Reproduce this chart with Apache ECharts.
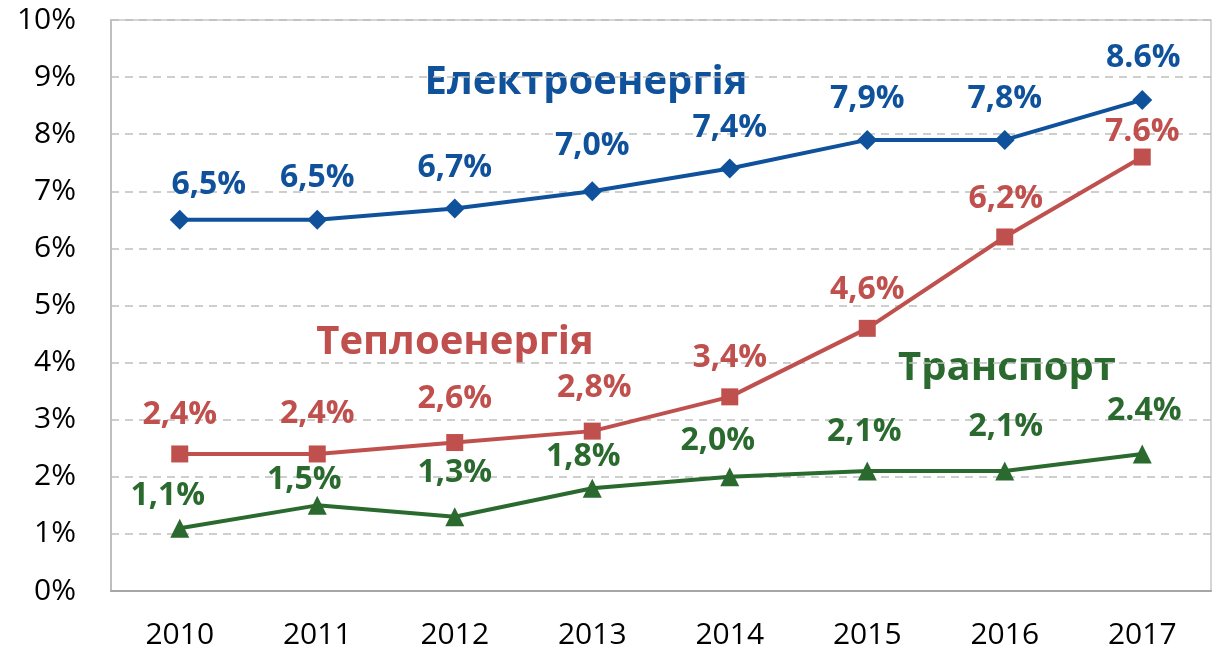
<!DOCTYPE html>
<html><head><meta charset="utf-8">
<script src="https://cdn.jsdelivr.net/npm/echarts@6/dist/echarts.min.js"></script>
<style>html,body{margin:0;padding:0;background:#fff}#c{width:1213px;height:656px}</style>
</head><body><div id="c"></div>
<script>
const years = ['2010','2011','2012','2013','2014','2015','2016','2017'];
const electricity = [6.5, 6.5, 6.7, 7.0, 7.4, 7.9, 7.9, 8.6];
const electricityLabels = ['6,5%','6,5%','6,7%','7,0%','7,4%','7,9%','7,8%','8.6%'];
const heat = [2.4, 2.4, 2.6, 2.8, 3.4, 4.6, 6.2, 7.6];
const heatLabels = ['2,4%','2,4%','2,6%','2,8%','3,4%','4,6%','6,2%','7.6%'];
const transport = [1.1, 1.5, 1.3, 1.8, 2.0, 2.1, 2.1, 2.4];
const transportLabels = ['1,1%','1,5%','1,3%','1,8%','2,0%','2,1%','2,1%','2.4%'];
const seriesNames = ['Електроенергія','Теплоенергія','Транспорт'];
const yTicks = [0,1,2,3,4,5,6,7,8,9,10];

const elecOffsets = [[29,-35],[0,-42],[0,-41],[0,-45],[0,-41],[0,-41],[0,-41],[1,-42]];
const heatOffsets = [[0,-39],[0,-40],[0,-44],[2,-43],[0,-39],[0,-38],[1,-38],[0,-25]];
const transOffsets = [[-12,-32],[-13,-25],[0,-44],[-9,-31],[-12,-36],[-3,-39],[1,-44],[2,-43]];

const FONT = '"Open Sans", "Noto Sans", sans-serif';
const BLUE = '#0F529B', RED = '#C0504D', GREEN = '#2B6A2F';

function mk(values, labels, offsets) {
  return values.map((v, i) => ({
    value: v,
    label: { formatter: labels[i], offset: offsets[i] }
  }));
}
function series(name, values, labels, offsets, color, symbol, size) {
  return {
    name, type: 'line', data: mk(values, labels, offsets),
    symbol, symbolSize: size,
    lineStyle: { color, width: 4 },
    itemStyle: { color },
    label: { show: true, position: 'inside', color, fontFamily: FONT, fontWeight: 'bold', fontSize: 32 },
    z: 3
  };
}

const chart = echarts.init(document.getElementById('c'), null, { renderer: 'canvas' });
chart.setOption({
  animation: false,
  grid: { left: 111, top: 20, width: 1100, height: 571, show: true, borderColor: '#C8C8C8', borderWidth: 1.5, containLabel: false },
  xAxis: {
    type: 'category', data: years, boundaryGap: true,
    axisLine: { lineStyle: { color: '#A6A6A6', width: 2 } },
    axisTick: { show: false },
    axisLabel: { color: '#000', fontFamily: FONT, fontSize: 30, margin: 29 }
  },
  yAxis: {
    type: 'value', min: 0, max: 10, interval: 1,
    axisLine: { show: true, lineStyle: { color: '#BFBFBF', width: 2 } },
    axisTick: { show: false },
    splitLine: { lineStyle: { color: '#BFBFBF', type: [8, 6], width: 1.5 } },
    axisLabel: { color: '#000', fontFamily: FONT, fontSize: 30, margin: 35,
      formatter: v => yTicks.includes(v) ? v + '%' : '' }
  },
  graphic: [
    { type: 'text', x: 586, y: 83, style: { text: seriesNames[0], fill: BLUE, font: 'bold 40px ' + FONT, align: 'center', verticalAlign: 'middle' } },
    { type: 'text', x: 455, y: 343, style: { text: seriesNames[1], fill: RED, font: 'bold 40px ' + FONT, align: 'center', verticalAlign: 'middle' } },
    { type: 'text', x: 1007, y: 369, style: { text: seriesNames[2], fill: GREEN, font: 'bold 40px ' + FONT, align: 'center', verticalAlign: 'middle' } }
  ],
  series: [
    series(seriesNames[0], electricity, electricityLabels, elecOffsets, BLUE, 'diamond', 20),
    series(seriesNames[1], heat, heatLabels, heatOffsets, RED, 'rect', 17),
    series(seriesNames[2], transport, transportLabels, transOffsets, GREEN, 'triangle', 19)
  ]
});
</script></body></html>
